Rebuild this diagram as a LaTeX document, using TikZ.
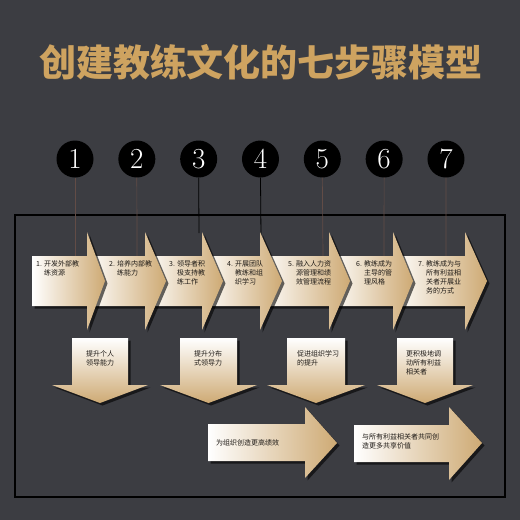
\documentclass[tikz,border=0pt]{standalone}
\usepackage{fontspec}
\newfontfamily\cjk{Noto Sans CJK SC}
\usepackage{tikz}
\usetikzlibrary{calc}
\definecolor{bgdark}{RGB}{60,61,66}
\definecolor{gold}{RGB}{206,170,116}
\definecolor{titlegold}{RGB}{206,163,96}
\definecolor{lead}{RGB}{98,76,70}
\definecolor{ink}{RGB}{30,26,22}
\tikzset{
  numdot/.style={circle, fill=black, minimum size=37pt, inner sep=0pt, text=white, font=\fontsize{29}{29}\selectfont},
  armtext/.style={inner sep=0pt, align=left, text=ink, font=\cjk\fontsize{7}{9}\selectfont},
  dropshade/.style={fill=black, opacity=0.6, shift={(2.5,2.5)}}
}

\begin{document}
\begin{tikzpicture}[x=1pt,y=-1pt]
    % Background
    \fill[bgdark] (0,0) rectangle (520,520);

    % Title
    \node[text=titlegold, font=\cjk\bfseries\fontsize{37}{37}\selectfont] (title) at (261,62) {创建教练文化的七步骤模型};

    % Frame
    \draw[line width=2.5pt, black] (15,215) rectangle (505,497);

    % Numbered dots
    \foreach \i in {1,...,7}
        \node[numdot] (c\i) at ({75+61.83*(\i-1)},159) {\i};

    % Leader lines from dots to arrows
    \coordinate (l1) at (75,256);
    \coordinate (l2) at (137,256);
    \coordinate (l3) at (199,233);
    \coordinate (l4) at (261,236);
    \coordinate (l5) at (323,256);
    \coordinate (l6) at (384,256);
    \coordinate (l7) at (446,256);
    \foreach \i in {1,2,5,6,7}
        \draw[lead, line width=0.7pt] (c\i.south) -- (l\i);
    \foreach \i in {3,4}
        \draw[black, line width=0.8pt] (c\i.south) -- (l\i);

    % Row of step arrows (drawn right to left, so each one sits on the next)
    \foreach \s/\b/\t in {393/465/487, 329/393/413, 260/329/350, 202/260/282, 145/202/223, 87/145/166, 32/87/105} {
        \fill[dropshade] (\s,256) -- (\b,256) -- (\b,232) -- (\t,281) -- (\b,330) -- (\b,306) -- (\s,306) -- cycle;
        \shade[left color=white, right color=gold] (\s,256) -- (\b,256) -- (\b,232) -- (\t,281) -- (\b,330) -- (\b,306) -- (\s,306) -- cycle;
    }

    % Step texts
    \node[armtext, anchor=north west] (t1) at (36,260) {1. 开发外部教\\\hphantom{1. }练资源};
    \node[armtext, anchor=north west] (t2) at (109,260) {2. 培养内部教\\\hphantom{2. }练能力};
    \node[armtext, anchor=north west] (t3) at (169,260) {3. 领导者积\\\hphantom{3. }极支持教\\\hphantom{3. }练工作};
    \node[armtext, anchor=north west] (t4) at (227,260) {4. 开展团队\\\hphantom{4. }教练和组\\\hphantom{4. }织学习};
    \node[armtext, anchor=north west] (t5) at (288,260) {5. 融入人力资\\\hphantom{5. }源管理和绩\\\hphantom{5. }效管理流程};
    \node[armtext, anchor=north west] (t6) at (356,260) {6. 教练成为\\\hphantom{6. }主导的管\\\hphantom{6. }理风格};
    \node[armtext, anchor=north west] (t7) at (418,260) {7. 教练成为与\\\hphantom{7. }所有利益相\\\hphantom{7. }关者开展业\\\hphantom{7. }务的方式};

    % Downward arrows
    \foreach \l/\r in {72/128, 180/237, 287/345, 397/453} {
        \fill[dropshade] (\l,338) -- (\r,338) -- (\r,385) -- ({\r+20},385) -- ({(\l+\r)/2},403) -- ({\l-20},385) -- (\l,385) -- cycle;
        \shade[top color=white, bottom color=gold] (\l,338) -- (\r,338) -- (\r,385) -- ({\r+20},385) -- ({(\l+\r)/2},403) -- ({\l-20},385) -- (\l,385) -- cycle;
    }
    \node[armtext, anchor=north, align=center] (d1) at (100,350) {提升个人\\领导能力};
    \node[armtext, anchor=north, align=center] (d2) at (208,350) {提升分布\\式领导力};
    \node[armtext, anchor=north west] (d3) at (297,350) {促进组织学习\\的提升};
    \node[armtext, anchor=north west] (d4) at (406,350) {更积极地调\\动所有利益\\相关者};

    % Result arrows
    \fill[dropshade] (208,424) -- (305,424) -- (305,407) -- (337,443) -- (305,478) -- (305,461) -- (208,461) -- cycle;
    \shade[left color=white, right color=gold] (208,424) -- (305,424) -- (305,407) -- (337,443) -- (305,478) -- (305,461) -- (208,461) -- cycle;
    \fill[dropshade] (354,425) -- (449,425) -- (449,407) -- (482,443) -- (449,480) -- (449,462) -- (354,462) -- cycle;
    \shade[left color=white, right color=gold] (354,425) -- (449,425) -- (449,407) -- (482,443) -- (449,480) -- (449,462) -- (354,462) -- cycle;
    \node[armtext, anchor=west] (r1) at (216,443) {为组织创造更高绩效};
    \node[armtext, anchor=north west] (r2) at (362,433) {与所有利益相关者共同创\\造更多共享价值};
\end{tikzpicture}
\end{document}
